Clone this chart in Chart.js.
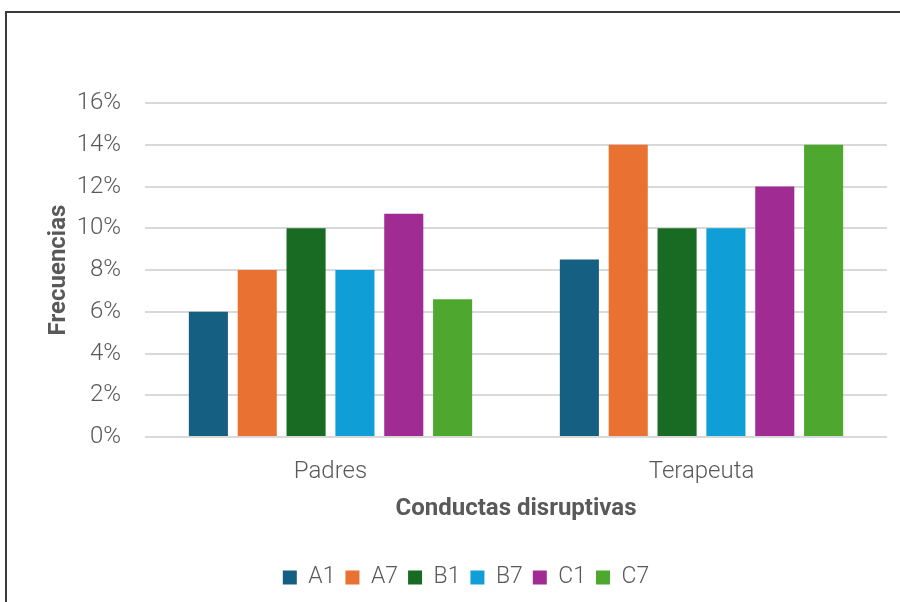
<!DOCTYPE html>
<html>
<head>
<meta charset="utf-8">
<script src="https://cdn.jsdelivr.net/npm/chart.js@4/dist/chart.umd.min.js"></script>
<style>
  html, body { margin: 0; padding: 0; background: #fff; }
  #wrap { position: relative; width: 900px; height: 602px; overflow: hidden; }
  #frame { position: absolute; left: 5px; top: 11px; width: 1000px; height: 700px;
           border-left: 2px solid #3a3a3a; border-top: 2px solid #3a3a3a; }
  canvas { position: absolute; left: 0; top: 0; }
</style>
</head>
<body>
<div id="wrap">
  <div id="frame"></div>
  <canvas id="Chart1" width="900" height="602"></canvas>
</div>
<script>
// groups on the x axis
var categories = ['Padres', 'Terapeuta'];
// one series per behaviour code, values in %
var seriesNames = ['A1', 'A7', 'B1', 'B7', 'C1', 'C7'];
var A1 = [6, 8.5];
var A7 = [8, 14];
var B1 = [10, 10];
var B7 = [8, 10];
var C1 = [10.7, 12];
var C7 = [6.6, 14];
var yTicks = [0, 2, 4, 6, 8, 10, 12, 14, 16];

var colors = ['#156082', '#E97132', '#196B24', '#0F9ED5', '#A02B93', '#4EA72E'];
var values = [A1, A7, B1, B7, C1, C7];

var datasets = [];
for (var i in seriesNames) {
    datasets.push({
        label: seriesNames[i],
        data: values[i],
        backgroundColor: colors[i],
        borderWidth: 0,
        categoryPercentage: 0.79,
        barPercentage: 0.8
    });
}

var grey = '#595959';
var ctx1 = document.getElementById('Chart1');
var chart1 = new Chart(ctx1, {
    type: 'bar',
    data: { labels: categories, datasets: datasets },
    options: {
        animation: false,
        responsive: false,
        layout: { padding: { left: 45, top: 103, right: 13, bottom: 3 } },
        plugins: {
            tooltip: { enabled: false },
            legend: {
                display: true,
                position: 'bottom',
                labels: {
                    boxWidth: 14, boxHeight: 14, padding: 10,
                    color: grey,
                    font: { family: 'Roboto', size: 23, weight: 300 }
                }
            }
        },
        scales: {
            x: {
                grid: { display: false },
                border: { display: false },
                ticks: { color: grey, padding: 13, font: { family: 'Roboto', size: 24, weight: 300 } },
                title: { display: true, text: 'Conductas disruptivas', color: grey,
                         padding: { top: 0, bottom: 33 },
                         font: { family: 'Roboto', size: 24, weight: 'bold' } },
                afterFit: function(s) { s.height = 119; }
            },
            y: {
                min: 0, max: 16,
                afterBuildTicks: function(s) { s.ticks = yTicks.map(function(v) { return { value: v }; }); },
                grid: { color: '#d9d9d9', lineWidth: 2, drawTicks: false },
                border: { display: false },
                ticks: { color: grey, padding: 24, font: { family: 'Roboto', size: 24, weight: 300 },
                         callback: function(v) { return v + '%'; } },
                title: { display: true, text: 'Frecuencias', color: grey,
                         padding: { top: 0, bottom: 0 },
                         font: { family: 'Roboto', size: 24, weight: 'bold' } },
                afterFit: function(s) { s.width = 100; }
            }
        }
    }
});
</script>
</body>
</html>
